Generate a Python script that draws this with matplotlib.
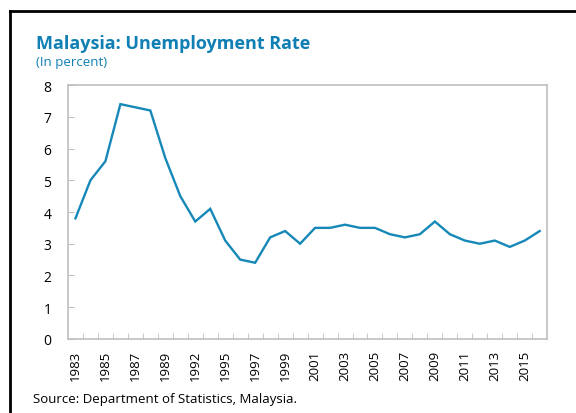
import numpy as np
import matplotlib
matplotlib.use("Agg")
import matplotlib.pyplot as plt
from matplotlib.lines import Line2D

plt.rcParams['font.family'] = ['Open Sans', 'DejaVu Sans']

# Unemployment rate (no survey in 1991 and 1994)
years = [1983, 1984, 1985, 1986, 1987, 1988, 1989, 1990, 1992, 1993,
         1995, 1996, 1997, 1998, 1999, 2000, 2001, 2002, 2003, 2004,
         2005, 2006, 2007, 2008, 2009, 2010, 2011, 2012, 2013, 2014,
         2015, 2016]
rate = [3.8, 5.0, 5.6, 7.4, 7.3, 7.2, 5.7, 4.5, 3.7, 4.1,
        3.1, 2.5, 2.4, 3.2, 3.4, 3.0, 3.5, 3.5, 3.6, 3.5,
        3.5, 3.3, 3.2, 3.3, 3.7, 3.3, 3.1, 3.0, 3.1, 2.9,
        3.1, 3.4]

blue = '#0F7FB4'
line_blue = '#1688B8'
grey = '#BFBFBF'

fig = plt.figure(figsize=(5.76, 4.14), dpi=100)
ax = fig.add_axes([0.118, 0.179, 0.832, 0.613])

x = np.arange(len(years))
ax.plot(x, rate, color=line_blue, linewidth=1.7, solid_joinstyle='miter')

ax.set_xlim(-0.5, len(years) - 0.5)
ax.set_ylim(0, 8)
ax.set_yticks(range(0, 9))
ax.tick_params(axis='y', direction='in', length=4, color=grey, labelsize=10, pad=12)

ax.set_xticks(x[::2])
ax.set_xticklabels([str(y) for y in years[::2]], rotation=90, fontsize=9.5)
ax.tick_params(axis='x', length=0, pad=8)
ax.set_xticks(np.arange(0.5, len(years) - 0.5, 1), minor=True)
ax.tick_params(axis='x', which='minor', direction='in', length=4, color=grey)

for s in ax.spines.values():
    s.set_color(grey)
    s.set_linewidth(1.2)

fig.text(0.062, 0.893, 'Malaysia: Unemployment Rate', color=blue, fontsize=13,
         fontweight='bold', va='center')
fig.text(0.062, 0.848, '(In percent)', color=blue, fontsize=9.5, va='center')
fig.text(0.057, 0.035, 'Source: Department of Statistics, Malaysia.', fontsize=9.5,
         va='center')

# outer frame (top and left only)
fig.add_artist(Line2D([0.017, 1.0], [0.971, 0.971], color='black', linewidth=2,
                      transform=fig.transFigure))
fig.add_artist(Line2D([0.017, 0.017], [0.0, 0.971], color='black', linewidth=2,
                      transform=fig.transFigure))

fig.savefig('out.png', dpi=100)
